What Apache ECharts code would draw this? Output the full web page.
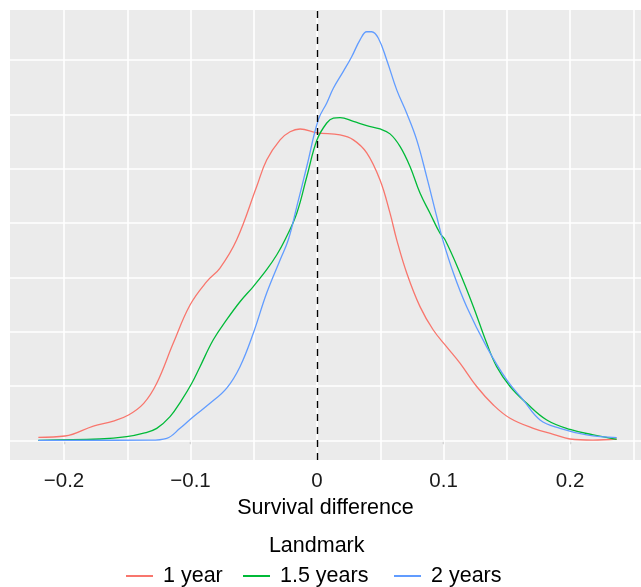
<!DOCTYPE html>
<html><head><meta charset="utf-8">
<script src="https://cdn.jsdelivr.net/npm/echarts@6/dist/echarts.min.js"></script>
<style>html,body{margin:0;padding:0;background:#fff}#c{width:641px;height:587px}</style>
</head><body><div id="c"></div>
<script>
// ---- data (x = survival difference, y = density) ----
const seriesNames = ['1 year', '1.5 years', '2 years'];
const colors = ['#F8766D', '#00BA38', '#619CFF'];

const x1 = [-0.2203,-0.1992,-0.1768,-0.161,-0.149,-0.137,-0.1267,-0.1136,-0.1004,-0.0872,-0.0767,-0.0635,-0.0477,-0.0398,-0.0292,-0.0213,-0.0134,0,0.0182,0.0287,0.0393,0.0498,0.0577,0.063,0.0709,0.0814,0.0919,0.1025,0.113,0.1262,0.1394,0.1526,0.171,0.1868,0.2,0.218,0.2369];
const y1 = [0.055,0.079,0.263,0.355,0.466,0.68,1.05,1.79,2.49,2.92,3.17,3.69,4.67,5.16,5.53,5.68,5.73,5.66,5.62,5.53,5.29,4.79,4.18,3.69,3.08,2.46,2.03,1.72,1.42,0.99,0.65,0.405,0.22,0.11,0.024,0.005,0.024];

const x2 = [-0.2203,-0.1716,-0.1505,-0.137,-0.1267,-0.1162,-0.107,-0.099,-0.0925,-0.082,-0.0714,-0.0609,-0.0504,-0.0398,-0.0319,-0.0253,-0.016,-0.0081,0,0.0077,0.0129,0.0182,0.0287,0.0393,0.0498,0.0577,0.0656,0.0735,0.0814,0.0893,0.0972,0.1012,0.113,0.1236,0.1341,0.142,0.1526,0.1658,0.1816,0.2,0.2184,0.2368];
const y2 = [0,0.024,0.066,0.13,0.22,0.435,0.74,1.05,1.355,1.85,2.22,2.55,2.83,3.14,3.41,3.69,4.18,4.85,5.53,5.84,5.93,5.94,5.87,5.79,5.73,5.64,5.41,5.04,4.55,4.18,3.81,3.69,3.08,2.46,1.79,1.355,0.99,0.68,0.374,0.2,0.1,0.018];

const x3 = [-0.2203,-0.132,-0.1188,-0.1083,-0.0978,-0.0846,-0.0714,-0.0609,-0.0504,-0.0398,-0.0292,-0.0227,-0.016,-0.0081,0.001,0.0077,0.0129,0.0208,0.0274,0.034,0.0393,0.0432,0.0485,0.0551,0.063,0.0709,0.0788,0.0867,0.0946,0.0994,0.1078,0.1183,0.1341,0.15,0.1631,0.1763,0.1921,0.2132,0.2369];
const y3 = [0,0.003,0.037,0.22,0.435,0.68,0.96,1.355,1.97,2.71,3.32,3.69,4.3,5.04,5.9,6.21,6.48,6.79,7.06,7.37,7.52,7.52,7.4,7.0,6.45,6.02,5.53,4.85,4.12,3.69,3.08,2.46,1.72,1.11,0.74,0.374,0.22,0.1,0.048];

const xTicks = [-0.2, -0.1, 0, 0.1, 0.2];
const xGridValues = [-0.2, -0.15, -0.1, -0.05, 0, 0.05, 0.1, 0.15, 0.2, 0.25];
const yGridValues = [0, 1, 2, 3, 4, 5, 6, 7];
const xRange = [-0.2427, 0.2561];
const yRange = [-0.3626, 7.92];
const legendTitle = 'Landmark';
const xTitle = 'Survival difference';

const xs = [x1, x2, x3], ys = [y1, y2, y3];
const FONT = 'Liberation Sans, Arial, Helvetica, sans-serif';

const fmt = v => {
  const r = Math.round(v * 10) / 10;
  if (r === 0) return '0';
  return (r < 0 ? '\u2212' : '') + Math.abs(r);
};

const series = [];
series.push({
  type: 'line', data: [], silent: true, z: 1,
  markLine: {
    silent: true, symbol: 'none', label: { show: false }, animation: false, z: 1,
    lineStyle: { color: '#ffffff', width: 1.6, type: 'solid' },
    emphasis: { disabled: true },
    data: xGridValues.map(v => ({ xAxis: v })).concat(yGridValues.map(v => ({ yAxis: v })))
  }
});
seriesNames.forEach((n, i) => {
  series.push({
    name: n, type: 'line', smooth: 0.4, showSymbol: false, symbol: 'none', z: 3,
    lineStyle: { color: colors[i], width: 1.3 }, itemStyle: { color: colors[i] },
    data: xs[i].map((x, j) => [x, ys[i][j]])
  });
});
series.push({
  type: 'line', data: [], silent: true, z: 10,
  markLine: {
    silent: true, symbol: 'none', label: { show: false }, animation: false, z: 10,
    lineStyle: { color: '#000000', width: 1.4, type: [7, 6] },
    data: [{ xAxis: 0 }]
  }
});

const legendLefts = [126, 243, 394];
const legends = seriesNames.map((n, i) => ({
  data: [n], left: legendLefts[i], top: 565, padding: 0, icon: 'rect', itemWidth: 27, itemHeight: 2,
  selectedMode: false,
  textStyle: { fontSize: 21.5, color: '#000', fontFamily: FONT, padding: [0, 0, 0, 5] }
}));

const chart = echarts.init(document.getElementById('c'), null, { renderer: 'canvas' });
chart.setOption({
  animation: false,
  grid: { left: 10, right: 0, top: 10, bottom: 127, show: true, backgroundColor: '#EBEBEB', borderWidth: 0, containLabel: false },
  xAxis: {
    type: 'value', min: xRange[0], max: xRange[1],
    axisLine: { show: false },
    axisTick: { show: true, customValues: xTicks, length: 4, lineStyle: { color: '#333333', width: 1.1 } },
    axisLabel: { customValues: xTicks, formatter: fmt, margin: 11, fontSize: 20.5, color: '#1a1a1a', fontFamily: FONT },
    splitLine: { show: false },
    name: xTitle, nameLocation: 'middle', nameGap: 37,
    nameTextStyle: { fontSize: 21.5, color: '#000', fontFamily: FONT }
  },
  yAxis: {
    type: 'value', min: yRange[0], max: yRange[1],
    axisLine: { show: false }, axisTick: { show: false }, axisLabel: { show: false }, splitLine: { show: false }
  },
  legend: legends,
  graphic: [{
    type: 'text', x: 316.7, y: 546,
    style: { text: legendTitle, fontSize: 21.5, fill: '#000', fontFamily: FONT, align: 'center', verticalAlign: 'middle' }
  }],
  series: series
});
</script></body></html>
